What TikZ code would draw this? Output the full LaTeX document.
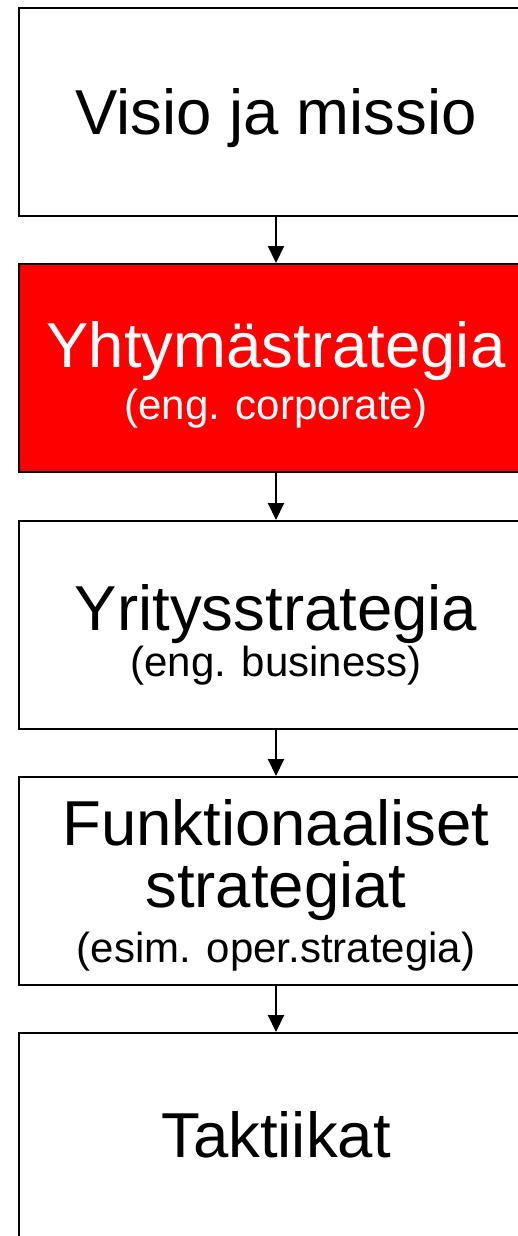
\documentclass[tikz,border=0pt]{standalone}
\usepackage{fontspec}
\setmainfont{Liberation Sans}
\usetikzlibrary{arrows.meta}

\tikzset{
  stage/.style={draw=black, line width=2pt, rectangle, inner sep=0pt,
                minimum width=514pt, minimum height=208pt},
  hot/.style={stage, fill={rgb,255:red,255;green,0;blue,0}},
  cold/.style={stage, fill=white},
  big/.style={anchor=base, inner sep=0pt, font=\fontsize{63.5}{70}\selectfont},
  small/.style={anchor=base, inner sep=0pt, font=\fontsize{42}{48}\selectfont},
  flow/.style={line width=2pt, -{Triangle[width=16pt,length=17pt]}}
}

\begin{document}
\begin{tikzpicture}[x=1pt, y=-1pt]
  \useasboundingbox (0,0) rectangle (518,1236);
  \clip (0,0) rectangle (518,1236);

  % the five levels
  \node[cold] (vision) at (276,112) {};
  \node[hot]  (corp)   at (276,368) {};
  \node[cold] (biz)    at (276,625) {};
  \node[cold] (func)   at (276,881) {};
  \node[cold] (tact)   at (276,1137) {};

  % labels
  \node[big] (t1) at (276,135) {Visio ja missio};
  \node[big, text=white]   (t2a) at (276,367) {Yhtymästrategia};
  \node[small, text=white] (t2b) at (276,419) {(eng. corporate)};
  \node[big]   (t3a) at (276,630) {Yritysstrategia};
  \node[small] (t3b) at (276,676) {(eng. business)};
  \node[big]   (t4a) at (276,845) {Funktionaaliset};
  \node[big]   (t4b) at (276,907) {strategiat};
  \node[small] (t4c) at (276,962) {(esim. oper.strategia)};
  \node[big]   (t5)  at (276,1157) {Taktiikat};

  % connectors
  \draw[flow] (vision.south) -- (corp.north);
  \draw[flow] (corp.south) -- (biz.north);
  \draw[flow] (biz.south) -- (func.north);
  \draw[flow] (func.south) -- (tact.north);
\end{tikzpicture}
\end{document}
